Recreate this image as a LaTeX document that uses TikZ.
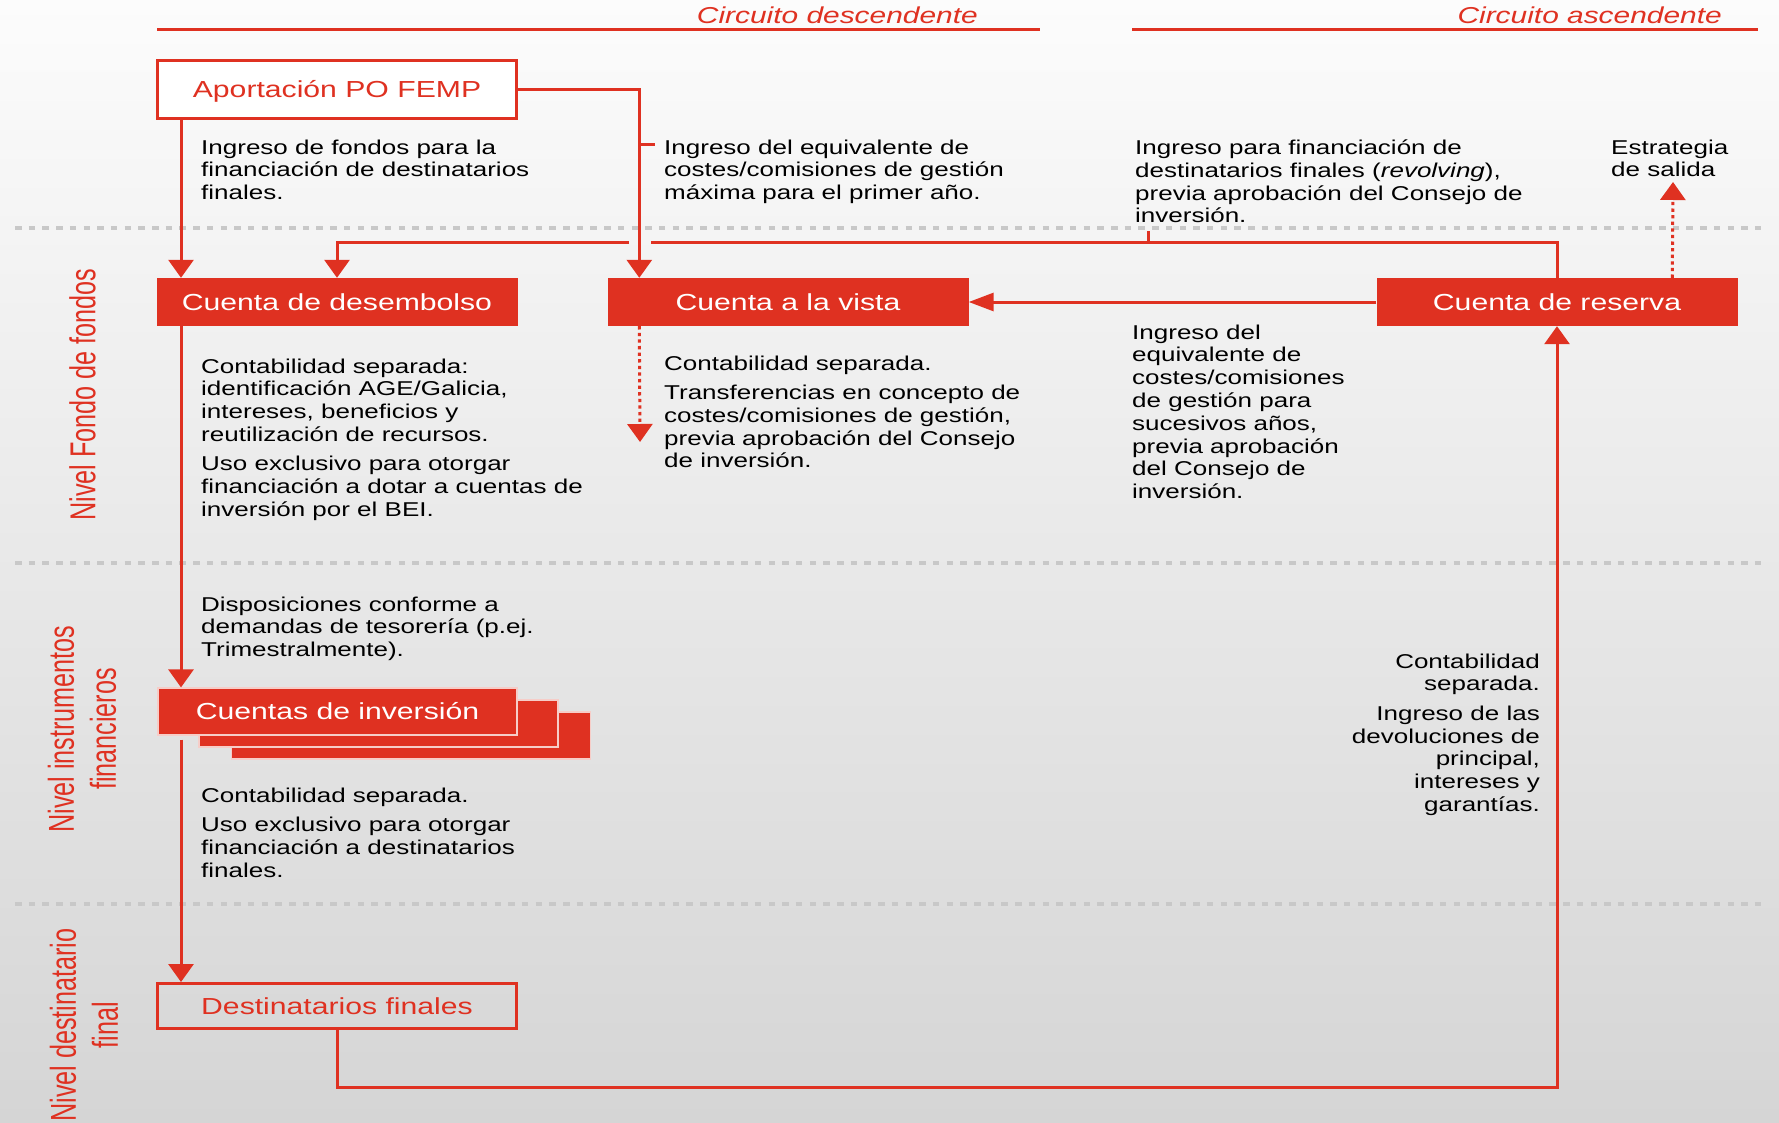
\documentclass[tikz,border=0pt]{standalone}
\usepackage{fontspec}
\setmainfont{Liberation Sans}[FakeStretch=1.3]
\newfontfamily\vfont{Liberation Sans}[FakeStretch=0.7]
\usetikzlibrary{arrows.meta}
\definecolor{fred}{RGB}{223,49,33}
\definecolor{sepgray}{RGB}{200,200,200}
\definecolor{bgtop}{RGB}{252,252,252}
\definecolor{bgmid}{RGB}{240,240,240}
\definecolor{bgbot}{RGB}{213,213,213}
\definecolor{edgepink}{RGB}{246,205,200}
\begin{document}
\begin{tikzpicture}[x=1pt,y=-1pt,
  body/.style={anchor=north west, inner sep=0pt, align=left, text=black, font={\fontsize{20}{22.8}\selectfont}},
  bodyr/.style={body, anchor=north east, align=right},
  hdr/.style={text=fred, inner sep=0pt, anchor=base east, font={\fontsize{23}{26}\selectfont\itshape}},
  lab/.style={text=fred, rotate=90, align=center, inner sep=0pt, font={\vfont\fontsize{36}{42}\selectfont}},
  boxlabel/.style={inner sep=0pt, text height=16.5pt, text depth=0pt, font={\fontsize{23.2}{26}\selectfont}},
  redbox/.style={boxlabel, fill=fred, text=white, minimum width=361pt, minimum height=48pt},
  openbox/.style={boxlabel, draw=fred, line width=3pt, text=fred, minimum width=359pt, minimum height=45pt},
  stackbox/.style={fill=fred, draw=edgepink, line width=1.2pt, minimum width=359pt, minimum height=47pt, inner sep=0pt},
  conn/.style={draw=fred, line width=3pt},
  va/.style={-{Triangle[width=25pt,length=18pt]}},
  ha/.style={-{Triangle[width=18pt,length=25pt]}},
  dotline/.style={dash pattern=on 3.3pt off 3.3pt},
  sep/.style={draw=sepgray, line width=4.5pt, dash pattern=on 6.5pt off 7.2pt},
  hline/.style={draw=fred, line width=2.5pt}
]
\useasboundingbox (0,0) rectangle (1779,1123);
\shade[top color=bgtop, middle color=bgmid, bottom color=bgbot] (0,0) rectangle (1779,1123);

% separators
\draw[sep] (15,228) -- (1763,228);
\draw[sep] (15,563) -- (1763,563);
\draw[sep] (15,904) -- (1763,904);

% headers
\node[hdr] (h1) at (978,24) {Circuito descendente};
\node[hdr] (h2) at (1722,24) {Circuito ascendente};
\draw[hline] (157,29.5) -- (1040,29.5);
\draw[hline] (1132,29.5) -- (1758,29.5);

% level labels
\node[lab] (l1) at (82.6,394.5) {Nivel Fondo de fondos};
\node[lab] (l2) at (82,729) {Nivel instrumentos\\financieros};
\node[lab] (l3) at (84,1025) {Nivel destinatario\\final};

% boxes
\node[openbox, fill=white, minimum height=58pt] (apo) at (337,89.5) {Aportación PO FEMP};
\node[redbox] (des) at (337,302) {Cuenta de desembolso};
\node[redbox] (vista) at (788,302) {Cuenta a la vista};
\node[redbox] (res) at (1557,302) {Cuenta de reserva};
\node[stackbox] (inv3) at (411,735.5) {};
\node[stackbox] (inv2) at (378.5,723.5) {};
\node[stackbox, boxlabel, text=white] (inv) at (337.5,711.5) {Cuentas de inversión};
\node[openbox] (dest) at (337,1006) {Destinatarios finales};

% texts
\node[body] (tA) at (201,139.5) {Ingreso de fondos para la\\financiación de destinatarios\\finales.};
\node[body] (tB) at (664,139.5) {Ingreso del equivalente de\\costes/comisiones de gestión\\máxima para el primer año.};
\node[body] (tC) at (1135,139.5) {Ingreso para financiación de\\destinatarios finales (\textit{revolving}),\\previa aprobación del Consejo de\\inversión.};
\node[body] (tD) at (1611,139.5) {Estrategia\\de salida};
\node[body] (tE) at (201,358.5) {Contabilidad separada:\\identificación AGE/Galicia,\\intereses, beneficios y\\reutilización de recursos.\\[6.5pt]Uso exclusivo para otorgar\\financiación a dotar a cuentas de\\inversión por el BEI.};
\node[body] (tF) at (664,355.5) {Contabilidad separada.\\[6.5pt]Transferencias en concepto de\\costes/comisiones de gestión,\\previa aprobación del Consejo\\de inversión.};
\node[body] (tG) at (1132,324.5) {Ingreso del\\equivalente de\\costes/comisiones\\de gestión para\\sucesivos años,\\previa aprobación\\del Consejo de\\inversión.};
\node[body] (tH) at (201,596.5) {Disposiciones conforme a\\demandas de tesorería (p.ej.\\Trimestralmente).};
\node[body] (tI) at (201,787.5) {Contabilidad separada.\\[6.5pt]Uso exclusivo para otorgar\\financiación a destinatarios\\finales.};
\node[bodyr] (tJ) at (1540,653.5) {Contabilidad\\separada.\\[6.5pt]Ingreso de las\\devoluciones de\\principal,\\intereses y\\garantías.};

% coordinates
\coordinate (vx) at ([xshift=32pt]vista.north west);
\coordinate (vxs) at ([xshift=32pt]vista.south west);
\coordinate (vdown) at (640,442);
\coordinate (gr) at (651,243);
\coordinate (gl) at (629,243);
\coordinate (rx) at ([xshift=296pt]res.north west);
\coordinate (exit) at (1673,182);
\coordinate (lx) at ([xshift=25pt]apo.south west);

% connectors
\draw[conn] (res.north) |- (gr);
\draw[conn, va] (gl) -| (des.north);
\draw[conn] (1148,243) -- (1148,231);
\draw[conn, va] (apo.east) -| (vx);
\draw[conn] (vx |- 0,145) -- ++(16,0);
\draw[conn, va] (lx) -- (lx |- des.north);
\draw[conn, va] (lx |- des.south) -- (lx |- inv.north);
\draw[conn, va] ([yshift=-4pt]lx |- inv.south) -- (lx |- dest.north);
\draw[conn, ha] (res.west) -- (vista.east);
\draw[conn, dotline, va] (rx) -- (exit);
\draw[conn, dotline, va] (vxs) -- (vdown);
\draw[conn, va] (dest.south) -- ++(0,57) -| (res.south);
\end{tikzpicture}
\end{document}
